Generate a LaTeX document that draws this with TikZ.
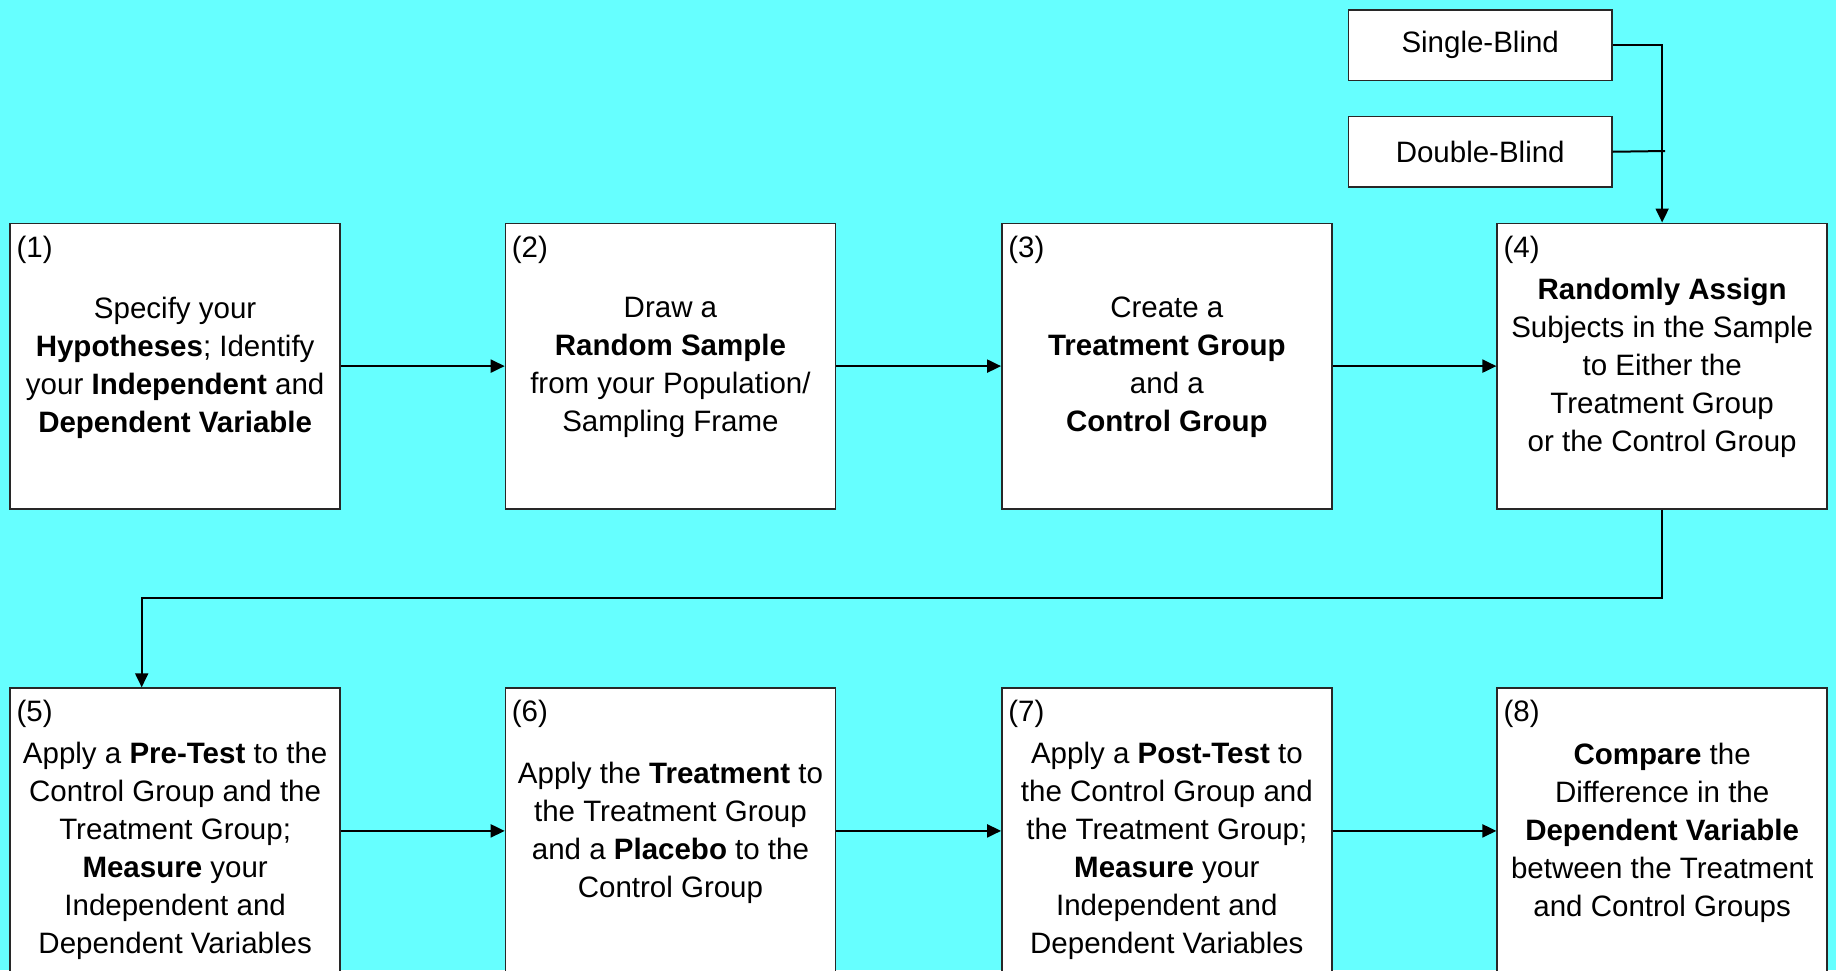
\documentclass[tikz,border=0pt]{standalone}
\usepackage{fontspec}
\setmainfont{Liberation Sans}
\usetikzlibrary{arrows.meta}
\definecolor{bg}{RGB}{102,255,255}
\definecolor{edge}{RGB}{40,40,40}
\begin{document}
\begin{tikzpicture}[x=1pt,y=-1pt,
  box/.style={draw=edge, line width=1.5pt, fill=white, minimum width=330pt, minimum height=285.7pt, inner sep=0pt, anchor=north west},
  smallbox/.style={draw=edge, line width=1.5pt, fill=white, minimum width=263.5pt, minimum height=70.2pt, inner sep=0pt, anchor=north west, font=\fontsize{29.5}{38}\selectfont},
  txt/.style={align=center, font=\fontsize{29.5}{38}\selectfont, inner sep=0pt},
  num/.style={anchor=north west, font=\fontsize{29.5}{38}\selectfont, inner sep=0pt},
  conn/.style={line width=2pt, -{Triangle[length=14pt,width=13pt]}},
  plain/.style={line width=2pt},
]
\path[use as bounding box, fill=bg] (0,0) rectangle (1836,970);
\clip (0,0) rectangle (1836,970);

% top small boxes
\node[smallbox] (sb) at (1347.7,9.4) {Single-Blind};
\node[smallbox] (db) at (1347.7,115.9) {Double-Blind};

% row 1
\node[box] (b1) at (9.4,222.5) {};
\node[box] (b2) at (504.7,222.5) {};
\node[box] (b3) at (1001.1,222.5) {};
\node[box] (b4) at (1496.4,222.5) {};
% row 2
\node[box] (b5) at (9.4,687.3) {};
\node[box] (b6) at (504.7,687.3) {};
\node[box] (b7) at (1001.1,687.3) {};
\node[box] (b8) at (1496.4,687.3) {};

% numbers
\foreach \i in {1,...,8}{
  \node[num] (n\i) at ([xshift=7pt,yshift=-13pt]b\i.north west) {(\i)};
}

% texts
\node[txt] (t1) at ([yshift=-1.5pt]b1.center) {Specify your\\\textbf{Hypotheses}; Identify\\your \textbf{Independent} and\\\textbf{Dependent Variable}};
\node[txt] (t2) at ([yshift=-1.5pt]b2.center) {Draw a\\\textbf{Random Sample}\\from your Population/\\Sampling Frame};
\node[txt] (t3) at ([yshift=-1.5pt]b3.center) {Create a\\\textbf{Treatment Group}\\and a\\\textbf{Control Group}};
\node[txt] (t4) at ([yshift=-1.5pt]b4.center) {\textbf{Randomly Assign}\\Subjects in the Sample\\to Either the\\Treatment Group\\or the Control Group};
\node[txt] (t5) at ([yshift=-19.5pt]b5.center) {Apply a \textbf{Pre-Test} to the\\Control Group and the\\Treatment Group;\\\textbf{Measure} your\\Independent and\\Dependent Variables};
\node[txt] (t6) at ([yshift=-1.5pt]b6.center) {Apply the \textbf{Treatment} to\\the Treatment Group\\and a \textbf{Placebo} to the\\Control Group};
\node[txt] (t7) at ([yshift=-19.5pt]b7.center) {Apply a \textbf{Post-Test} to\\the Control Group and\\the Treatment Group;\\\textbf{Measure} your\\Independent and\\Dependent Variables};
\node[txt] (t8) at ([yshift=-1.5pt]b8.center) {\textbf{Compare} the\\Difference in the\\\textbf{Dependent Variable}\\between the Treatment\\and Control Groups};

% connectors
\draw[conn] (b1.east) -- (b2.west);
\draw[conn] (b2.east) -- (b3.west);
\draw[conn] (b3.east) -- (b4.west);
\draw[conn] (b5.east) -- (b6.west);
\draw[conn] (b6.east) -- (b7.west);
\draw[conn] (b7.east) -- (b8.west);

\draw[conn] (sb.east) -| (b4.north);
\coordinate (dbend) at (1665,151);
\draw[plain] (db.east) -- (dbend);

\coordinate (c5) at (141.7,598.3);
\draw[conn] (b4.south) |- (c5) -- (c5 |- b5.north);
\end{tikzpicture}
\end{document}
